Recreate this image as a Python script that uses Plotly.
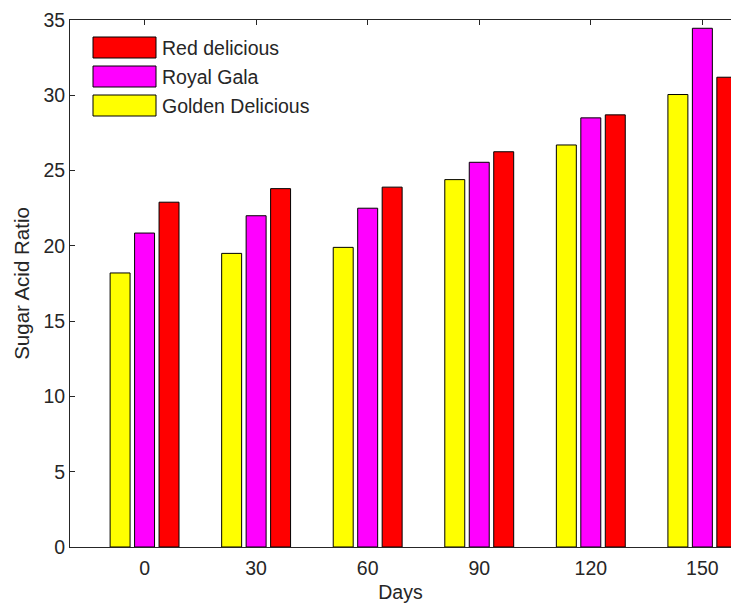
import plotly.graph_objects as go

# Storage time (days) and sugar/acid ratio per apple cultivar
days = [0, 30, 60, 90, 120, 150]
golden_delicious = [18.2, 19.5, 19.9, 24.4, 26.7, 30.05]
royal_gala = [20.85, 22.0, 22.5, 25.55, 28.5, 34.45]
red_delicious = [22.9, 23.8, 23.9, 26.25, 28.7, 31.2]

series_names = ["Golden Delicious", "Royal Gala", "Red delicious"]
series_values = [golden_delicious, royal_gala, red_delicious]
series_colors = ["#FFFF00", "#FF00FF", "#FF0000"]

y_ticks = [0, 5, 10, 15, 20, 25, 30, 35]

FONT = "Liberation Sans, Arial, sans-serif"
INK = "#262626"
FS = 19.5

fig = go.Figure()
for name, vals, col in zip(series_names, series_values, series_colors):
    fig.add_trace(go.Bar(
        x=days, y=vals, name=name,
        marker=dict(color=col, line=dict(color="#000000", width=1)),
        showlegend=False,
    ))

W, H = 731, 604
ml, mr, mt, mb = 70, 0, 20, 57
pw, ph = W - ml - mr, H - mt - mb

def px_x(p):
    return (p - ml) / pw

def px_y(p):
    return (H - mb - p) / ph

# Legend drawn as large swatches with labels (last series first)
legend_rows = [(37, 58), (66, 87), (95, 116)]
for (top, bot), name, col in zip(legend_rows, series_names[::-1], series_colors[::-1]):
    fig.add_shape(type="rect", xref="paper", yref="paper",
                  x0=px_x(93), x1=px_x(156), y0=px_y(bot), y1=px_y(top),
                  fillcolor=col, line=dict(color="#000000", width=1))
    fig.add_annotation(xref="paper", yref="paper", x=px_x(160), y=px_y((top + bot) / 2 + 0.5),
                       text=name, showarrow=False, xanchor="left", yanchor="middle",
                       font=dict(family=FONT, size=FS, color=INK))

fig.update_layout(
    width=W, height=H,
    margin=dict(l=ml, r=mr, t=mt, b=mb, pad=0),
    paper_bgcolor="white", plot_bgcolor="white",
    barmode="group", bargap=0.342, bargroupgap=0.184,
    font=dict(family=FONT, size=FS, color=INK),
    xaxis=dict(
        range=[-20.05, 157.7],
        tickmode="array", tickvals=days, ticktext=[str(d) for d in days],
        ticks="inside", ticklen=5, tickwidth=1, tickcolor=INK,
        showline=True, linecolor=INK, linewidth=1, mirror="ticks",
        showgrid=False, zeroline=False, layer="below traces",
        ticklabelstandoff=4,
        title=dict(text="Days", standoff=6, font=dict(family=FONT, size=FS, color=INK)),
    ),
    yaxis=dict(
        range=[0, 35],
        tickmode="array", tickvals=y_ticks,
        ticks="inside", ticklen=5, tickwidth=1, tickcolor=INK,
        showline=True, linecolor=INK, linewidth=1,
        showgrid=False, zeroline=False,
        ticklabelstandoff=0,
        title=dict(text="Sugar Acid Ratio", standoff=8, font=dict(family=FONT, size=20.5, color=INK)),
    ),
)

fig.write_html("out.html")
